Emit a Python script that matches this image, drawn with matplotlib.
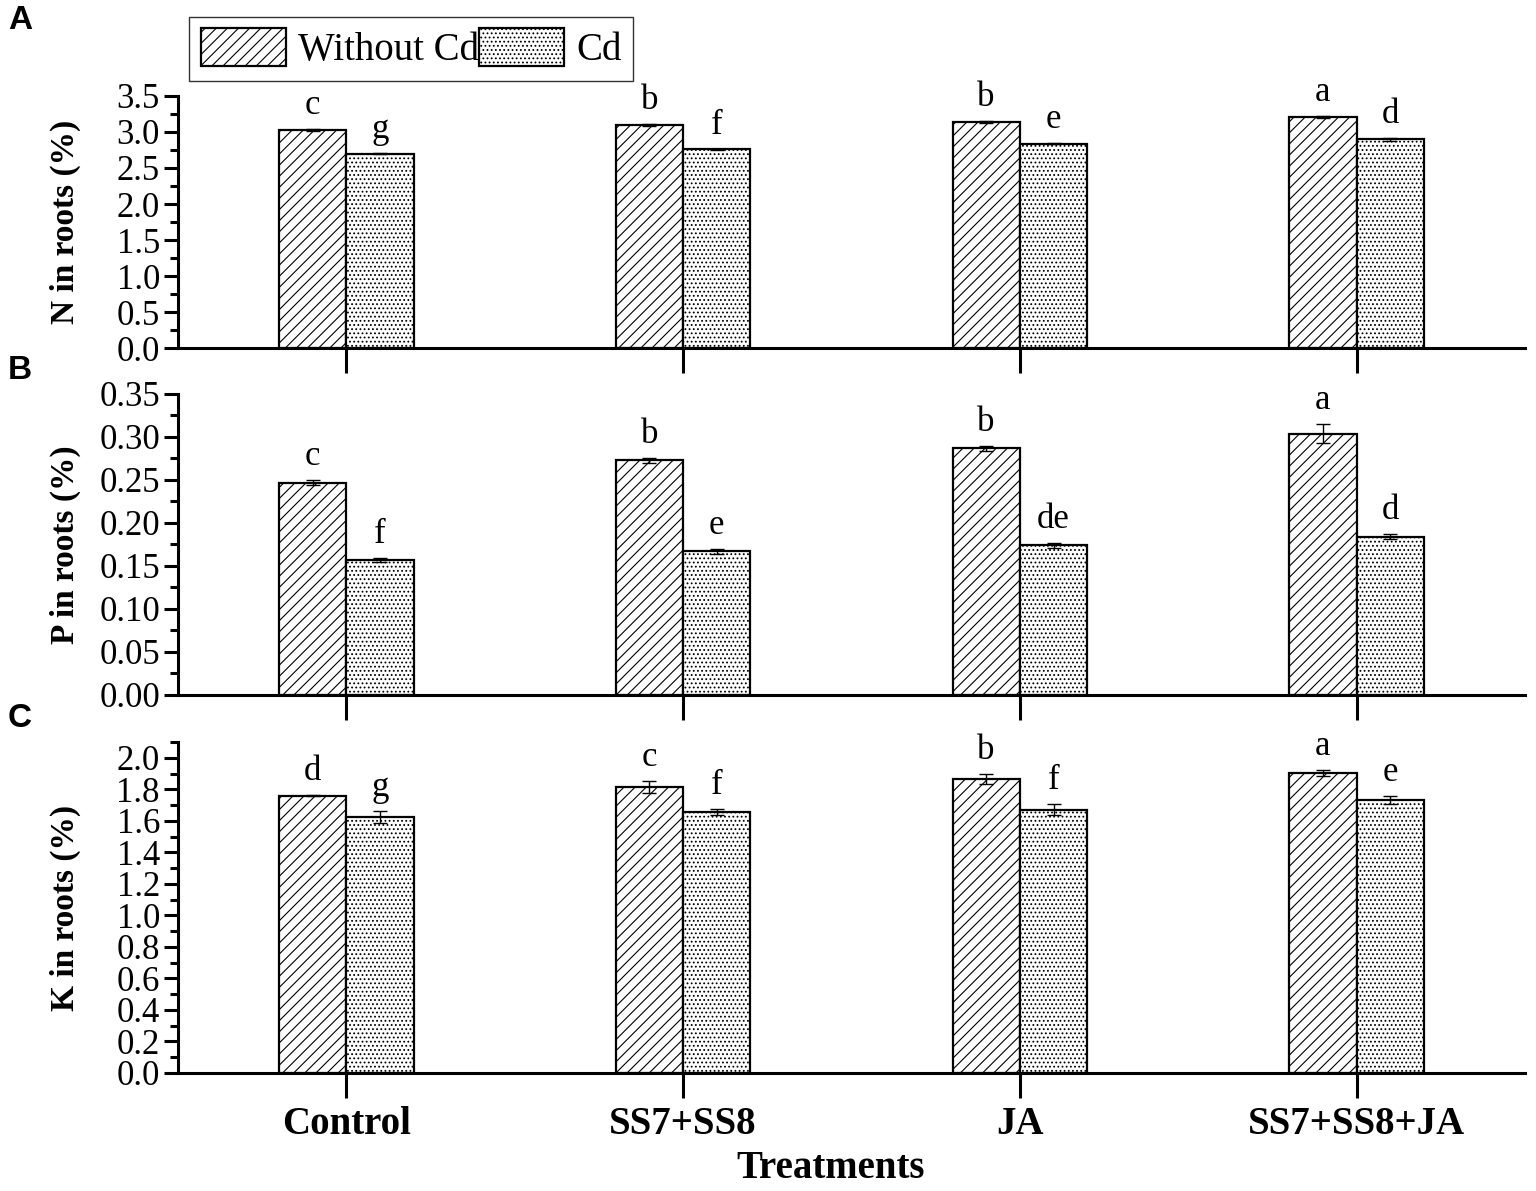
import numpy as np
import matplotlib
matplotlib.use("Agg")
import matplotlib.pyplot as plt
from matplotlib.patches import Patch
from matplotlib.ticker import MultipleLocator

plt.rcParams['font.family'] = ['Liberation Serif', 'DejaVu Serif']
plt.rcParams['hatch.linewidth'] = 0.8

# data
treatments = ['Control', 'SS7+SS8', 'JA', 'SS7+SS8+JA']
series = ['Without Cd', 'Cd']

n_without = [3.03, 3.10, 3.14, 3.21]
n_cd = [2.70, 2.76, 2.84, 2.90]
n_err_without = [0.01, 0.01, 0.01, 0.01]
n_err_cd = [0.01, 0.01, 0.01, 0.02]
n_letters_without = ['c', 'b', 'b', 'a']
n_letters_cd = ['g', 'f', 'e', 'd']

p_without = [0.247, 0.273, 0.287, 0.304]
p_cd = [0.157, 0.167, 0.174, 0.184]
p_err_without = [0.003, 0.003, 0.003, 0.011]
p_err_cd = [0.002, 0.003, 0.003, 0.003]
p_letters_without = ['c', 'b', 'b', 'a']
p_letters_cd = ['f', 'e', 'de', 'd']

k_without = [1.76, 1.815, 1.865, 1.905]
k_cd = [1.625, 1.655, 1.67, 1.73]
k_err_without = [0.005, 0.04, 0.03, 0.02]
k_err_cd = [0.04, 0.02, 0.035, 0.025]
k_letters_without = ['d', 'c', 'b', 'a']
k_letters_cd = ['g', 'f', 'f', 'e']

panels = [
    ('A', 'N in roots (%)', n_without, n_cd, n_err_without, n_err_cd,
     n_letters_without, n_letters_cd, 3.5, 0.5, 0.25, '%.1f'),
    ('B', 'P in roots (%)', p_without, p_cd, p_err_without, p_err_cd,
     p_letters_without, p_letters_cd, 0.35, 0.05, 0.025, '%.2f'),
    ('C', 'K in roots (%)', k_without, k_cd, k_err_without, k_err_cd,
     k_letters_without, k_letters_cd, 2.1, 0.2, 0.1, '%.1f'),
]

# axes boxes in figure fractions [left, bottom, width, height]
boxes = [
    [0.1159, 0.7078, 0.8769, 0.2116],
    [0.1159, 0.4165, 0.8769, 0.2527],
    [0.1159, 0.0991, 0.8769, 0.2779],
]
letter_y = [0.983, 0.689, 0.397]

fig = plt.figure(figsize=(15.36, 11.91), dpi=100)
x = np.arange(len(treatments))
w = 0.2

for i, (tag, ylab, yw, yc, ew, ec, lw_, lc_, ymax, major, minor, fmt) in enumerate(panels):
    ax = fig.add_axes(boxes[i])
    ax.bar(x - w / 2, yw, w, yerr=ew, facecolor='white', edgecolor='black',
           hatch='///', linewidth=1.6, capsize=5,
           error_kw=dict(elinewidth=1.0, capthick=1.0, ecolor='black'))
    ax.bar(x + w / 2, yc, w, yerr=ec, facecolor='white', edgecolor='black',
           hatch='....', linewidth=1.6, capsize=5,
           error_kw=dict(elinewidth=1.0, capthick=1.0, ecolor='black'))
    for j in range(len(treatments)):
        ax.annotate(lw_[j], (x[j] - w / 2, yw[j] + ew[j]), xytext=(0, 5),
                    textcoords='offset points', ha='center', va='bottom', fontsize=25)
        ax.annotate(lc_[j], (x[j] + w / 2, yc[j] + ec[j]), xytext=(0, 5),
                    textcoords='offset points', ha='center', va='bottom', fontsize=25)
    ax.set_xlim(-0.5, 3.5)
    ax.set_ylim(0, ymax)
    ax.yaxis.set_major_locator(MultipleLocator(major))
    ax.yaxis.set_minor_locator(MultipleLocator(minor))
    ax.yaxis.set_major_formatter(plt.FormatStrFormatter(fmt))
    ax.set_xticks(x)
    if i == 2:
        ax.set_xticklabels(treatments, fontsize=28, fontweight='bold')
    else:
        ax.set_xticklabels([])
    for s in ['top', 'right']:
        ax.spines[s].set_visible(False)
    for s in ['left', 'bottom']:
        ax.spines[s].set_linewidth(2.2)
    ax.tick_params(axis='y', which='major', length=10, width=2.2, labelsize=25, pad=3)
    ax.tick_params(axis='y', which='minor', length=6, width=2.2)
    ax.tick_params(axis='x', which='major', length=18, width=2.2, pad=6)
    ax.set_ylabel(ylab, fontsize=24, fontweight='bold')
    ax.yaxis.set_label_coords(-0.072, 0.5)
    fig.text(0.005, letter_y[i], tag, fontsize=24, fontweight='bold',
             family=['Liberation Sans', 'DejaVu Sans'], ha='left', va='center')

fig.text(0.541, 0.019, 'Treatments', fontsize=28, fontweight='bold', ha='center', va='center')

handles = [Patch(facecolor='white', edgecolor='black', hatch='///', linewidth=1.6),
           Patch(facecolor='white', edgecolor='black', hatch='....', linewidth=1.6)]
fig.legend(handles, series, loc='upper left', bbox_to_anchor=(0.123, 0.986),
           ncol=2, fontsize=28, frameon=True, fancybox=False, edgecolor='black',
           handlelength=2.2, handleheight=1.1, handletextpad=0.3,
           columnspacing=0.0, borderpad=0.3, borderaxespad=0.0)

fig.savefig('out.png', dpi=100)
